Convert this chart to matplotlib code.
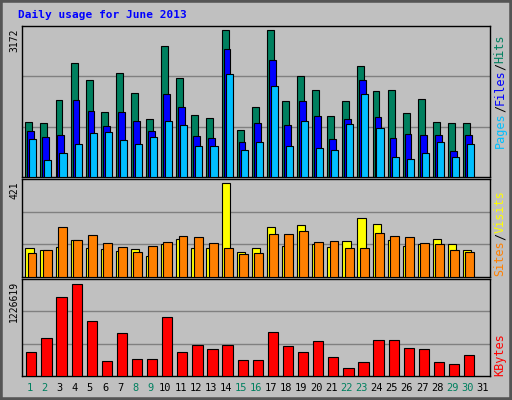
import matplotlib
matplotlib.use("Agg")
import matplotlib.pyplot as plt
from matplotlib.patches import Rectangle

days = list(range(1, 32))
hits = [1184,1163,1665,2462,2096,1407,2246,1816,1256,2828,2139,1342,1277,3172,1019,1514,3172,1643,2182,1880,1320,1643,2397,1859,1880,1385,1686,1191,1170,1170]
files = [998,868,911,1665,1428,1105,1407,1213,998,1794,1514,890,847,2763,761,1170,2526,1127,1643,1320,825,1256,2096,1299,847,933,911,911,567,911]
pages = [825,373,524,718,954,976,804,718,868,1213,1127,675,675,2225,588,761,1966,675,1213,632,588,1148,1794,1062,438,395,524,761,438,718]
visits = [129,120,134,166,129,125,116,125,93,147,170,129,129,421,111,129,225,138,234,147,134,161,266,239,166,138,147,170,147,120]
sites = [106,120,225,166,188,152,134,111,138,157,184,179,152,129,102,106,193,193,207,157,161,129,129,198,184,179,152,147,120,111]
kbytes = [326800,514800,1052000,1226619,729700,205900,582000,232800,232800,783400,326800,420800,367100,420800,219400,219400,595400,407400,326800,474500,259600,111900,192500,488000,488000,380500,367100,192500,165600,286500]
weekends = [1, 2, 8, 9, 15, 16, 22, 23, 29, 30]

W, H = 512, 400
fig = plt.figure(figsize=(W/100, H/100), dpi=100, facecolor="#C0C0C0")
fig.patches.append(Rectangle((0, 0), 1, 1, transform=fig.transFigure, fill=False, edgecolor="#555555", lw=4))
mono = "DejaVu Sans Mono"
fig.text(18/W, 1-15/H, "Daily usage for June 2013", color="#0000FF", fontsize=8, fontweight="bold", family=mono, va="center")

def mkax(top, bot):
    ax = fig.add_axes([22/W, 1-bot/H, 468/W, (bot-top)/H])
    ax.set_facecolor("#C0C0C0")
    ax.set_xlim(0, 31)
    ax.set_xticks([]); ax.set_yticks([])
    for s in ax.spines.values():
        s.set_color("black"); s.set_linewidth(1)
    return ax

def bars(ax, data, off, w, color):
    ax.bar([d - 1 + off for d in days[:len(data)]], data, width=w, align="edge",
           color=color, edgecolor="black", linewidth=0.8, zorder=3)

def grid(ax, top):
    for f in (1/3, 2/3):
        ax.axhline(top*f, color="#808080", lw=1, zorder=1)
    ax.set_ylim(0, top)

ax1 = mkax(26, 177)
t1 = max(hits)*453/442
grid(ax1, t1)
bars(ax1, hits, 0.22, 0.46, "#00805F")
bars(ax1, files, 0.35, 0.45, "#0000FF")
bars(ax1, pages, 0.48, 0.47, "#00BFFF")

ax2 = mkax(179, 277)
t2 = max(visits)*289/277
grid(ax2, t2)
bars(ax2, visits, 0.22, 0.55, "#FFFF00")
bars(ax2, sites, 0.37, 0.59, "#FF8000")

ax3 = mkax(279, 376)
t3 = max(kbytes)*290/274
grid(ax3, t3)
bars(ax3, kbytes, 0.28, 0.68, "#FF0000")

for d in days:
    fig.text((22 + (d - 0.5)*468/31)/W, 1-388/H, str(d), ha="center", va="center",
             fontsize=7.5, family=mono, color="#00805F" if d in weekends else "black")

fig.text(14/W, 1-28/H, str(max(hits)), rotation=90, ha="center", va="top", fontsize=7, family=mono)
fig.text(14/W, 1-181/H, str(max(visits)), rotation=90, ha="center", va="top", fontsize=7, family=mono)
fig.text(14/W, 1-281/H, str(max(kbytes)), rotation=90, ha="center", va="top", fontsize=7, family=mono)

FS = 8.5
ADV = 0.602*FS*100/72

def rlabel(ybot, parts):
    y = ybot
    for txt, col in parts:
        fig.text(500/W, 1-y/H, txt, rotation=90, ha="center", va="bottom", fontsize=FS,
                 family=mono, color=col, rotation_mode="default")
        y -= len(txt)*ADV

rlabel(148, [("Pages", "#00BFFF"), ("/", "black"), ("Files", "#0000FF"), ("/", "black"), ("Hits", "#00805F")])
rlabel(276, [("Sites", "#FF8000"), ("/", "black"), ("Visits", "#FFFF00")])
rlabel(376, [("KBytes", "#FF0000")])

fig.savefig("out.png", dpi=100, facecolor=fig.get_facecolor())
